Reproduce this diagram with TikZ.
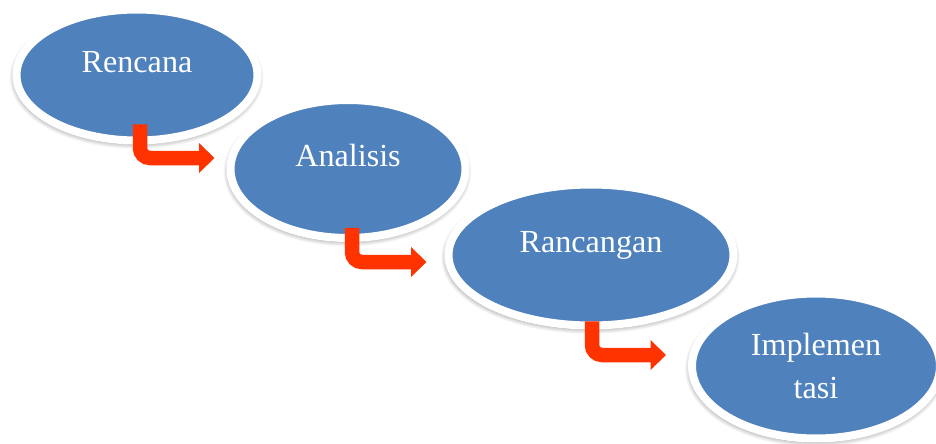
\documentclass[tikz,border=0pt]{standalone}
\usepackage{fontspec}
\setmainfont{Liberation Serif}
\usepackage{tikz}
\usetikzlibrary{arrows.meta, calc, shapes.geometric, shadows.blur}

\definecolor{stageblue}{RGB}{79,129,189}
\definecolor{arrowred}{RGB}{255,51,0}

\begin{document}
\begin{tikzpicture}[
    x=0.02cm, y=-0.02cm,
    stage/.style={ellipse, draw=white, line width=0.16cm, fill=stageblue,
                  inner sep=0pt, text=white, align=center,
                  font=\fontsize{18.3pt}{24.5pt}\selectfont,
                  blur shadow={shadow xshift=-0.3pt, shadow yshift=-1.5pt,
                               shadow scale=1.015, shadow blur radius=2.8pt,
                               shadow blur steps=10, shadow opacity=45}},
    oneline/.style={stage, text height=0.45cm, text depth=0.57cm},
    turn/.style={draw=arrowred, line width=0.29cm, rounded corners=0.2cm,
                 -{Triangle[length=0.31cm, width=0.58cm]}},
]
\useasboundingbox (0,0) rectangle (936,443);

% the four phases
\node[oneline, minimum width=4.82cm, minimum height=2.62cm] (rencana) at (137,75) {Rencana};
\node[oneline, minimum width=4.70cm, minimum height=2.76cm] (analisis) at (348,169) {Analisis};
\node[oneline, minimum width=5.70cm, minimum height=2.82cm] (rancangan) at (591,255) {Rancangan};
\node[stage, minimum width=4.96cm, minimum height=2.90cm] (implementasi) at (816,366) {Implemen\\tasi};

% bent arrows
\draw[turn] ($(rencana.south)+(3,-20)$) |- ($(analisis.west)+(-12,-11)$);
\draw[turn] ($(analisis.south)+(4,-14)$) |- ($(rancangan.west)+(-18,7)$);
\draw[turn] ($(rancangan.south)+(1,-8)$) |- ($(implementasi.west)+(-22,-11)$);

\end{tikzpicture}
\end{document}
